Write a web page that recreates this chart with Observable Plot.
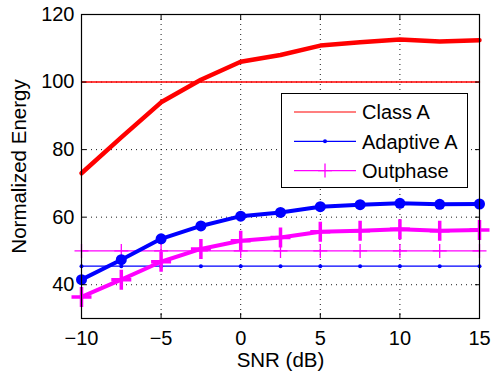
<!DOCTYPE html>
<html><head><meta charset="utf-8">
<script src="https://cdn.jsdelivr.net/npm/d3@7"></script>
<script src="https://cdn.jsdelivr.net/npm/@observablehq/plot@0.6"></script>
<style>
body{margin:0;background:#fff;font-family:"Liberation Sans",Arial,Helvetica,sans-serif}
#wrap{position:relative;width:492px;height:373px}
#legend{position:absolute;left:281px;top:93px;width:187px;height:95px;border:1.2px solid #000;background:#fff;box-sizing:border-box}
#legend svg{display:block}
</style></head><body><div id="wrap"></div>
<script>
// ---- data ----
const snr = [-10, -7.5, -5, -2.5, 0, 2.5, 5, 7.5, 10, 12.5, 15];
const classA = [73, 83.6, 94, 100.7, 106, 108, 110.8, 111.8, 112.6, 112, 112.4];
const adaptiveA = [41.5, 47.4, 53.6, 57.4, 60.3, 61.4, 63.1, 63.7, 64.1, 63.8, 63.9];
const outphase = [36.4, 41.5, 46.8, 50.6, 53, 54, 55.7, 56, 56.4, 56, 56.2];
const classARef = [100, 100, 100, 100, 100, 100, 100, 100, 100, 100, 100];
const adaptiveRef = [45.5, 45.5, 45.5, 45.5, 45.5, 45.5, 45.5, 45.5, 45.5, 45.5, 45.5];
const outphaseRef = [50, 50, 50, 50, 50, 50, 50, 50, 50, 50, 50];
const legendLabels = ["Class A", "Adaptive A", "Outphase"];
const xTicks = [-10, -5, 0, 5, 10, 15];
const yTicks = [40, 60, 80, 100, 120];
const xLabel = "SNR (dB)";
const yLabel = "Normalized Energy";

const rows = (ys) => snr.map((x, i) => ({x, y: ys[i]}));
const plusSym = {draw(c, size) { const r = Math.sqrt(size / Math.PI); c.moveTo(-r, 0); c.lineTo(r, 0); c.moveTo(0, -r); c.lineTo(0, r); }};
const font = '"Liberation Sans", Arial, Helvetica, sans-serif';
const dash = "1,4";

const chart = Plot.plot({
  width: 492, height: 373,
  marginLeft: 81, marginRight: 13, marginTop: 14, marginBottom: 55,
  style: {fontFamily: font, fontSize: "20px", background: "white", color: "black"},
  x: {domain: [-10, 15]},
  y: {domain: [30, 120]},
  marks: [
    Plot.gridX(xTicks, {stroke: "black", strokeOpacity: 0.9, strokeDasharray: dash}),
    Plot.gridY(yTicks, {stroke: "black", strokeOpacity: 0.9, strokeDasharray: dash}),
    // thin reference series
    Plot.line(rows(classARef), {x: "x", y: "y", stroke: "#ff0000", strokeWidth: 1.4}),
    Plot.line(rows(adaptiveRef), {x: "x", y: "y", stroke: "#0000ff", strokeWidth: 1.3}),
    Plot.dot(rows(adaptiveRef), {x: "x", y: "y", r: 2, fill: "#0000ff"}),
    Plot.line(rows(outphaseRef), {x: "x", y: "y", stroke: "#ff00ff", strokeWidth: 1.3}),
    Plot.dot(rows(outphaseRef), {x: "x", y: "y", r: 7, symbol: plusSym, stroke: "#ff00ff", strokeWidth: 1.3}),
    // thick series
    Plot.line(rows(classA), {x: "x", y: "y", stroke: "#ff0000", strokeWidth: 4.5}),
    Plot.line(rows(adaptiveA), {x: "x", y: "y", stroke: "#0000ff", strokeWidth: 4}),
    Plot.dot(rows(adaptiveA), {x: "x", y: "y", r: 5.5, fill: "#0000ff"}),
    Plot.line(rows(outphase), {x: "x", y: "y", stroke: "#ff00ff", strokeWidth: 4}),
    Plot.dot(rows(outphase), {x: "x", y: "y", r: 10, symbol: plusSym, stroke: "#ff00ff", strokeWidth: 3.5}),
    Plot.frame({stroke: "black", strokeWidth: 1.2}),
    Plot.axisX(xTicks, {anchor: "bottom", tickSize: 0, tickPadding: 12, label: null, fontSize: 20}),
    Plot.axisX(xTicks, {anchor: "bottom", tickSize: -5, tickFormat: () => "", label: null}),
    Plot.axisX(xTicks, {anchor: "top", tickSize: -5, tickFormat: () => "", label: null}),
    Plot.axisY(yTicks, {anchor: "left", tickSize: 0, tickPadding: 7, label: null, fontSize: 20}),
    Plot.axisY(yTicks, {anchor: "left", tickSize: -5, tickFormat: () => "", label: null}),
    Plot.axisY(yTicks, {anchor: "right", tickSize: -5, tickFormat: () => "", label: null}),
    Plot.text([yLabel], {text: d => d, frameAnchor: "left", textAnchor: "middle", lineAnchor: "middle", dx: -62.5, rotate: -90, fontSize: 20.5}),
    Plot.text([xLabel], {text: d => d, frameAnchor: "bottom", textAnchor: "middle", lineAnchor: "middle", dy: 42, fontSize: 20.5})
  ]
});
const wrap = document.getElementById("wrap");
wrap.appendChild(chart);

// legend overlay
const leg = document.createElement("div");
leg.id = "legend";
wrap.appendChild(leg);
const svg = d3.select(leg).append("svg").attr("width", 185).attr("height", 93);
const colors = ["#ff0000", "#0000ff", "#ff00ff"];
legendLabels.forEach((lab, i) => {
  const y = 18 + i * 29.3;
  svg.append("line").attr("x1", 12).attr("x2", 74).attr("y1", y).attr("y2", y)
    .attr("stroke", colors[i]).attr("stroke-width", i === 0 ? 1.2 : 1.3);
  if (i === 1) svg.append("circle").attr("cx", 43).attr("cy", y).attr("r", 2).attr("fill", colors[i]);
  if (i === 2) svg.append("path").attr("d", `M36,${y}H50M43,${y - 7}V${y + 7}`).attr("stroke", colors[i]).attr("stroke-width", 1.3);
  svg.append("text").attr("x", 80).attr("y", y).attr("dy", "0.36em")
    .attr("font-family", font).attr("font-size", 20).text(lab);
});
</script>
</body></html>
